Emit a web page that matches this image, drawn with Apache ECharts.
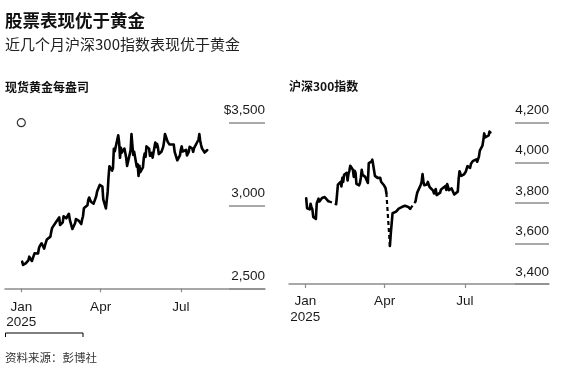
<!DOCTYPE html>
<html>
<head>
<meta charset="utf-8">
<script src="https://cdn.jsdelivr.net/npm/echarts@6/dist/echarts.min.js"></script>
<style>
html,body{margin:0;padding:0;background:#fff;}
#c{width:586px;height:373px;}
</style>
</head>
<body>
<div id="c"></div>
<script>
// ---------- data ----------
const goldDates = ['2025-01-02','2025-01-03','2025-01-06','2025-01-07','2025-01-08','2025-01-09','2025-01-10','2025-01-13','2025-01-14','2025-01-15','2025-01-16','2025-01-17','2025-01-20','2025-01-21','2025-01-22','2025-01-23','2025-01-24','2025-01-27','2025-01-28','2025-01-29','2025-01-30','2025-01-31',
'2025-02-03','2025-02-04','2025-02-05','2025-02-06','2025-02-07','2025-02-10','2025-02-11','2025-02-12','2025-02-13','2025-02-14','2025-02-17','2025-02-18','2025-02-19','2025-02-20','2025-02-21','2025-02-24','2025-02-25','2025-02-26','2025-02-27','2025-02-28',
'2025-03-03','2025-03-04','2025-03-05','2025-03-06','2025-03-07','2025-03-10','2025-03-11','2025-03-12','2025-03-13','2025-03-14','2025-03-17','2025-03-18','2025-03-19','2025-03-20','2025-03-21','2025-03-24','2025-03-25','2025-03-26','2025-03-27','2025-03-28','2025-03-31',
'2025-04-01','2025-04-02','2025-04-03','2025-04-04','2025-04-07','2025-04-08','2025-04-09','2025-04-10','2025-04-11','2025-04-14','2025-04-15','2025-04-16','2025-04-17','2025-04-21','2025-04-22','2025-04-23','2025-04-24','2025-04-25','2025-04-28','2025-04-29','2025-04-30',
'2025-05-01','2025-05-02','2025-05-05','2025-05-06','2025-05-07','2025-05-08','2025-05-09','2025-05-12','2025-05-13','2025-05-14','2025-05-15','2025-05-16','2025-05-19','2025-05-20','2025-05-21','2025-05-22','2025-05-23','2025-05-26','2025-05-27','2025-05-28','2025-05-29','2025-05-30',
'2025-06-02','2025-06-03','2025-06-04','2025-06-05','2025-06-06','2025-06-09','2025-06-10','2025-06-11','2025-06-12','2025-06-13','2025-06-16','2025-06-17','2025-06-18','2025-06-19','2025-06-20','2025-06-23','2025-06-24','2025-06-25','2025-06-26','2025-06-27','2025-06-30',
'2025-07-01','2025-07-02','2025-07-03','2025-07-04','2025-07-07','2025-07-08','2025-07-09','2025-07-10','2025-07-11','2025-07-14','2025-07-15','2025-07-16','2025-07-17','2025-07-18','2025-07-21','2025-07-22','2025-07-23','2025-07-24','2025-07-25','2025-07-28','2025-07-29','2025-07-30','2025-07-31'];
const goldValues = [2661,2641,2650,2648,2661,2668,2691,2665,2675,2696,2711,2701,2710,2742,2756,2755,2772,2740,2762,2760,2795,2802,
2812,2842,2865,2856,2862,2905,2898,2904,2928,2882,2898,2935,2933,2938,2923,2950,2915,2916,2876,2858,
2893,2918,2920,2910,2909,2888,2916,2935,2983,2984,3001,3034,3048,3044,3023,3011,3019,3019,3056,3084,3124,
3113,3134,3114,3037,2982,2985,3082,3175,3237,3211,3226,3343,3327,3424,3381,3288,3349,3319,3344,3317,3289,
3239,3241,3333,3431,3365,3306,3325,3234,3249,3178,3240,3201,3230,3288,3314,3294,3357,3343,3300,3289,3318,3289,
3380,3353,3372,3352,3310,3325,3322,3354,3386,3432,3386,3389,3369,3370,3368,3368,3324,3333,3328,3273,3303,
3338,3357,3326,3337,3336,3302,3313,3324,3355,3344,3324,3347,3339,3350,3397,3431,3390,3365,3345,3320,3330,3322,3335];
const goldMarker = [['2025-01-01', 3500]];

const csiDates = ['2025-01-02','2025-01-03','2025-01-06','2025-01-07','2025-01-08','2025-01-09','2025-01-10','2025-01-13','2025-01-14','2025-01-15','2025-01-16','2025-01-17','2025-01-20','2025-01-21','2025-01-22','2025-01-23','2025-01-24','2025-01-27',
'2025-02-05','2025-02-06','2025-02-07','2025-02-10','2025-02-11','2025-02-12','2025-02-13','2025-02-14','2025-02-17','2025-02-18','2025-02-19','2025-02-20','2025-02-21','2025-02-24','2025-02-25','2025-02-26','2025-02-27','2025-02-28',
'2025-03-03','2025-03-04','2025-03-05','2025-03-06','2025-03-07','2025-03-10','2025-03-11','2025-03-12','2025-03-13','2025-03-14','2025-03-17','2025-03-18','2025-03-19','2025-03-20','2025-03-21','2025-03-24','2025-03-25','2025-03-26','2025-03-27','2025-03-28','2025-03-31',
'2025-04-01','2025-04-02','2025-04-03','2025-04-07','2025-04-08','2025-04-09','2025-04-10','2025-04-11','2025-04-14','2025-04-15','2025-04-16','2025-04-17','2025-04-18','2025-04-21','2025-04-22','2025-04-23','2025-04-24','2025-04-25','2025-04-28','2025-04-29','2025-04-30',
'2025-05-06','2025-05-07','2025-05-08','2025-05-09','2025-05-12','2025-05-13','2025-05-14','2025-05-15','2025-05-16','2025-05-19','2025-05-20','2025-05-21','2025-05-22','2025-05-23','2025-05-26','2025-05-27','2025-05-28','2025-05-29','2025-05-30',
'2025-06-03','2025-06-04','2025-06-05','2025-06-06','2025-06-09','2025-06-10','2025-06-11','2025-06-12','2025-06-13','2025-06-16','2025-06-17','2025-06-18','2025-06-19','2025-06-20','2025-06-23','2025-06-24','2025-06-25','2025-06-26','2025-06-27','2025-06-30',
'2025-07-01','2025-07-02','2025-07-03','2025-07-04','2025-07-07','2025-07-08','2025-07-09','2025-07-10','2025-07-11','2025-07-14','2025-07-15','2025-07-16','2025-07-17','2025-07-18','2025-07-21','2025-07-22','2025-07-23','2025-07-24','2025-07-25','2025-07-28','2025-07-29','2025-07-30'];
const csiValues = [3824,3775,3769,3797,3780,3770,3732,3722,3800,3795,3822,3808,3826,3834,3818,3830,3835,3810,
3795,3842,3892,3905,3883,3925,3905,3940,3950,3912,3945,3960,3985,3965,3930,3960,3950,3895,
3888,3900,3925,3965,3940,3930,3935,3925,3900,3998,4005,4015,3990,3997,3935,3925,3920,3930,3925,3906,3890,
3885,3875,3850,3588,3650,3700,3750,3752,3758,3762,3766,3773,3775,3782,3784,3786,3787,3786,3781,3777,3772,
3808,3832,3852,3846,3891,3905,3944,3907,3889,3892,3905,3912,3880,3882,3862,3848,3842,3870,3840,
3852,3868,3877,3873,3885,3865,3894,3880,3864,3873,3870,3875,3843,3846,3857,3920,3958,3946,3935,3942,
3945,3955,3969,3983,3975,3995,3991,4008,4013,4017,4005,4000,4030,4060,4085,4112,4145,4125,4127,4135,4154,4150];
// market closures drawn dashed: [last day before, first day after]
const csiGaps = [['2025-01-27','2025-02-05'],['2025-04-03','2025-04-07'],['2025-04-30','2025-05-06']];

const xTickDates = ['2025-01-01','2025-04-01','2025-07-01'];
const xTickLabels = ['Jan\n2025','Apr','Jul'];
const goldYTicks = [2500, 3000, 3500];
const csiYTicks = [3400, 3600, 3800, 4000, 4200];

const titleText = '股票表现优于黄金';
const subtitleText = '近几个月沪深300指数表现优于黄金';
const goldTitle = '现货黄金每盎司';
const csiTitle = '沪深300指数';
const sourceText = '资料来源：彭博社';

// ---------- helpers ----------
function ts(s){ const p = s.split('-').map(Number); return new Date(p[0], p[1]-1, p[2]).getTime(); }
const xMin = new Date(2024, 11, 13, 12).getTime();
const xMax = new Date(2025, 9, 4, 12).getTime();
const tickTs = xTickDates.map(ts);
function fmtNum(v){ return String(v).replace(/\B(?=(\d{3})+(?!\d))/g, ','); }

const goldData = goldDates.map((d,i)=>[ts(d), goldValues[i]]);
const goldMarkerData = goldMarker.map(p=>[ts(p[0]), p[1]]);

const gapStarts = csiGaps.map(g=>g[0]);
const csiSolid = [];
csiDates.forEach((d,i)=>{
  csiSolid.push([ts(d), csiValues[i]]);
  if (gapStarts.indexOf(d) >= 0) csiSolid.push([ts(d)+3600000, '-']);
});
const csiDashed = [];
csiGaps.forEach(g=>{
  const a = csiDates.indexOf(g[0]), b = csiDates.indexOf(g[1]);
  csiDashed.push([ts(g[0]), csiValues[a]]);
  csiDashed.push([ts(g[1]), csiValues[b]]);
  csiDashed.push([ts(g[1])+3600000, '-']);
});

const LATIN = "'Liberation Sans', Arial, Helvetica, sans-serif";
const CJK = "'Noto Sans CJK SC', 'Noto Sans', sans-serif";
const AXIS_GREY = '#8c8c8c';

function xAxisMain(gridIndex, margin){
  return {
    type: 'value', gridIndex, min: xMin, max: xMax,
    axisLine: { show: true, lineStyle: { color: AXIS_GREY, width: 1.5 } },
    axisTick: { show: true, customValues: tickTs, length: 4, lineStyle: { color: AXIS_GREY, width: 1.2 } },
    axisLabel: {
      show: true, customValues: tickTs, margin: margin,
      color: '#1a1a1a', fontFamily: LATIN, fontSize: 13.5, lineHeight: 15.5,
      formatter: function(v){ const i = tickTs.indexOf(v); return i >= 0 ? xTickLabels[i] : ''; }
    },
    splitLine: { show: false }
  };
}
function yAxisMain(gridIndex, ticks){
  return {
    type: 'value', gridIndex, min: ticks[0], max: ticks[ticks.length-1], interval: ticks[1]-ticks[0],
    show: true, axisLine:{show:false}, axisTick:{show:false}, axisLabel:{show:false}, splitLine:{show:false}
  };
}
function yAxisGrid(gridIndex, ticks, prefix){
  return {
    type: 'value', gridIndex, position: 'right', min: ticks[0], max: ticks[ticks.length-1], interval: ticks[1]-ticks[0],
    axisLine:{show:false}, axisTick:{show:false},
    splitLine:{ show:true, lineStyle:{ color: AXIS_GREY, width: 1.5 } },
    axisLabel:{
      show:true, inside:true, margin: 0, showMinLabel:true, showMaxLabel:true,
      fontFamily: LATIN, fontSize: 13.5, color: '#1a1a1a',
      verticalAlign: 'bottom', padding: [0,0,5,0],
      formatter: function(v){ return (v === ticks[ticks.length-1] ? prefix : '') + fmtNum(v); }
    }
  };
}

const chart = echarts.init(document.getElementById('c'), null, { renderer: 'canvas' });
chart.setOption({
  animation: false,
  backgroundColor: '#ffffff',
  title: [
    { text: titleText, left: 5, top: 11.5, padding: 0, textStyle: { fontFamily: CJK, fontSize: 17.5, fontWeight: 'bold', color: '#111' } },
    { text: subtitleText, left: 5, top: 36.5, padding: 0, textStyle: { fontFamily: CJK, fontSize: 15, fontWeight: 'normal', color: '#222' } },
    { text: goldTitle, left: 5, top: 81, padding: 0, textStyle: { fontFamily: CJK, fontSize: 12, fontWeight: 'bold', color: '#111' } },
    { text: csiTitle, left: 289, top: 80, padding: 0, textStyle: { fontFamily: CJK, fontSize: 12, fontWeight: 'bold', color: '#111' } },
    { text: sourceText, left: 5, top: 352, padding: 0, textStyle: { fontFamily: CJK, fontSize: 11.5, fontWeight: 'normal', color: '#333' } }
  ],
  grid: [
    { left: 5, right: 321, top: 122.7, bottom: 84.7 },
    { left: 229, right: 321, top: 122.7, bottom: 84.7 },
    { left: 289, right: 37, top: 122.3, bottom: 89 },
    { left: 515, right: 37, top: 122.3, bottom: 89 }
  ],
  xAxis: [
    xAxisMain(0, 11),
    { type: 'value', gridIndex: 1, show: false },
    xAxisMain(2, 10),
    { type: 'value', gridIndex: 3, show: false }
  ],
  yAxis: [
    yAxisMain(0, goldYTicks),
    yAxisGrid(1, goldYTicks, '$'),
    yAxisMain(2, csiYTicks),
    yAxisGrid(3, csiYTicks, '')
  ],
  series: [
    { type: 'line', xAxisIndex: 0, yAxisIndex: 0, data: goldData, showSymbol: false, symbol: 'none',
      lineStyle: { color: '#000', width: 2.6, join: 'round', cap: 'round' }, z: 5 },
    { type: 'scatter', xAxisIndex: 0, yAxisIndex: 0, data: goldMarkerData, symbol: 'circle', symbolSize: 8,
      itemStyle: { color: '#fff', borderColor: '#000', borderWidth: 1.2 }, z: 6 },
    { type: 'line', xAxisIndex: 2, yAxisIndex: 2, data: csiSolid, showSymbol: false, symbol: 'none', connectNulls: false,
      lineStyle: { color: '#000', width: 2.6, join: 'round', cap: 'round' }, z: 5 },
    { type: 'line', xAxisIndex: 2, yAxisIndex: 2, data: csiDashed, showSymbol: false, symbol: 'none', connectNulls: false,
      lineStyle: { color: '#000', width: 2.2, type: [4, 3] }, z: 4 }
  ],
  graphic: [
    { type: 'polyline', shape: { points: [[5.5, 337], [5.5, 333], [83, 333], [83, 337]] },
      style: { stroke: '#000', lineWidth: 1, fill: null } }
  ]
});
</script>
</body>
</html>
